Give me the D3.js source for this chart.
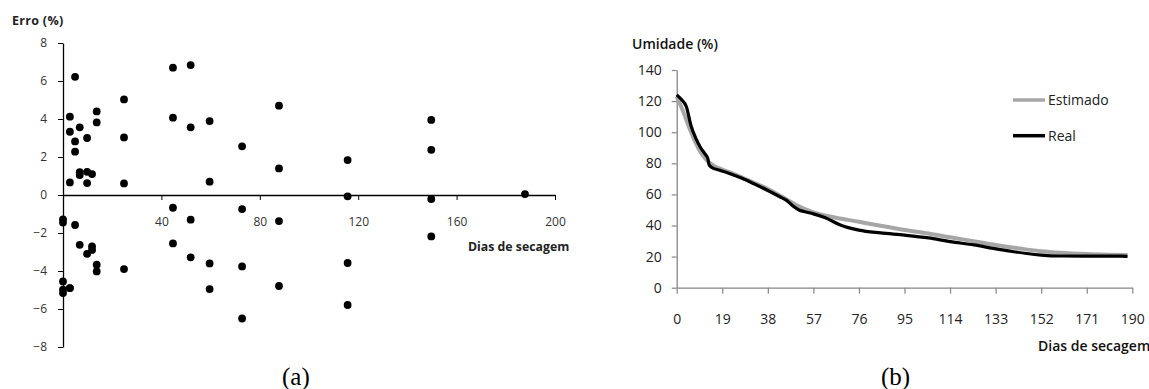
<!DOCTYPE html>
<html><head><meta charset="utf-8">
<script src="https://cdn.jsdelivr.net/npm/d3@7"></script>
<style>body{margin:0;background:#fff}svg{display:block}</style>
</head><body>
<svg id="c" width="1149" height="389"></svg>
<script>
// (a) scatter: erro (%) vs dias de secagem
const errDays = [0,0,0,0,0,2.8,2.8,2.8,2.8,2.8,4.9,4.9,4.9,4.9,6.8,6.8,6.8,6.8,9.8,9.8,9.8,9.8,11.8,11.8,11.8,13.7,13.7,13.7,13.7,24.8,24.8,24.8,24.8,44.7,44.7,44.7,44.7,51.9,51.9,51.9,51.9,59.6,59.6,59.6,59.6,72.8,72.8,72.8,72.8,87.8,87.8,87.8,87.8,115.7,115.7,115.7,115.7,149.7,149.7,149.7,149.7,187.8];
const errVals = [-1.28,-1.45,-4.55,-4.98,-5.16,0.66,4.12,3.33,-4.9,-4.9,6.22,2.82,2.28,-1.58,3.56,1.2,1.05,-2.62,3.0,1.22,0.63,-3.1,1.1,-2.7,-2.89,4.4,3.82,-3.67,-4.02,5.03,3.03,0.61,-3.9,6.7,4.07,-0.67,-2.55,6.84,3.56,-1.3,-3.28,3.89,0.7,-3.6,-4.95,2.56,-0.74,-3.76,-6.5,4.7,1.4,-1.37,-4.79,1.84,-0.07,-3.58,-5.79,3.95,2.38,-0.21,-2.18,0.05];
const errXTicks = [40,80,120,160,200];
const errYTicks = [-8,-6,-4,-2,0,2,4,6,8];

// (b) umidade (%) vs dias de secagem
const realDays = [0,2,4,6,8,10,11.8,13,13.5,14.5,18,22,27,32,38,43,46,48.5,51,53,57,62,68,76,85,95,105,114,124,132,140,146,152,160,170,180,188];
const realVals = [124,121,116.5,104,96,90,86,83,79,77.5,75.5,73.5,70.5,67,62.5,58.5,56,52.5,50,49,47.5,45,40.5,37,35.2,33.8,32,29.6,27.5,25.3,23.3,22,21,20.4,20.3,20.3,20.2];
const estDays = [0,2,4,6,8,10,12,14,16,19,24,30,38,45,50,57,65,76,85,95,105,114,125,133,145,152,160,171,180,188];
const estVals = [123,116,108,100,93,87,83,80,78,76,73,69,63.5,57.5,53,48.5,45.5,42.4,39.8,37.1,34.8,32.4,29.6,27.5,24.8,23.5,22.5,21.6,21.2,21];
const umXTicks = [0,19,38,57,76,95,114,133,152,171,190];
const umYTicks = [0,20,40,60,80,100,120,140];

const svg = d3.select("#c");
const sans = "'Open Sans', sans-serif";

// ---------- chart (a) ----------
const xa = d3.scaleLinear().domain([0,200]).range([63,555]);
const ya = d3.scaleLinear().domain([-8,8]).range([347,43]);
const ga = svg.append("g");
const axA = ga.append("g").attr("transform",`translate(0,${ya(0)})`)
  .call(d3.axisBottom(xa).tickValues(errXTicks).tickSize(5).tickPadding(17).tickSizeOuter(0));
const ayA = ga.append("g").attr("transform",`translate(${xa(0)},0)`)
  .call(d3.axisLeft(ya).tickValues(errYTicks).tickSize(5).tickPadding(11).tickSizeOuter(0));
[axA,ayA].forEach(a=>{
  a.select(".domain").attr("stroke","#000").attr("stroke-width",1.3);
  a.selectAll(".tick line").attr("stroke","#000").attr("stroke-width",1);
  a.selectAll("text").attr("font-family",sans).attr("font-size",12).attr("fill","#333");
});
ga.append("g").selectAll("circle").data(errDays.map((d,i)=>[d,errVals[i]])).join("circle")
  .attr("cx",d=>xa(d[0])).attr("cy",d=>ya(d[1])).attr("r",3.9).attr("fill","#000");
ga.append("text").attr("x",12).attr("y",25).attr("font-family",sans).attr("font-weight","bold")
  .attr("font-size",12.5).attr("letter-spacing",0.3).attr("fill","#222").text("Erro (%)");
ga.append("text").attr("x",468).attr("y",251).attr("font-family",sans).attr("font-weight","bold")
  .attr("font-size",12.3).attr("fill","#222").text("Dias de secagem");
ga.append("text").attr("x",282).attr("y",385).attr("font-family","'Liberation Serif', serif")
  .attr("font-size",25).attr("fill","#000").text("(a)");

// ---------- chart (b) ----------
const xb = d3.scaleLinear().domain([0,190]).range([676.7,1132.3]);
const yb = d3.scaleLinear().domain([0,140]).range([287.7,70]);
const gb = svg.append("g");
const axB = gb.append("g").attr("transform",`translate(0,${yb(0)})`)
  .call(d3.axisBottom(xb).tickValues(umXTicks).tickSize(6).tickPadding(20).tickSizeOuter(0));
const ayB = gb.append("g").attr("transform",`translate(${xb(0)},0)`)
  .call(d3.axisLeft(yb).tickValues(umYTicks).tickSize(5).tickPadding(10).tickSizeOuter(0));
[axB,ayB].forEach(a=>{
  a.select(".domain").attr("stroke","#868686").attr("stroke-width",1.3);
  a.selectAll(".tick line").attr("stroke","#868686").attr("stroke-width",1.2);
  a.selectAll("text").attr("font-family",sans).attr("font-size",14).attr("fill","#222");
});
const line = d3.line().x(d=>xb(d[0])).y(d=>yb(d[1])).curve(d3.curveMonotoneX);
gb.append("path").datum(estDays.map((d,i)=>[d,estVals[i]])).attr("d",line)
  .attr("fill","none").attr("stroke","#a6a6a6").attr("stroke-width",4);
gb.append("path").datum(realDays.map((d,i)=>[d,realVals[i]])).attr("d",line)
  .attr("fill","none").attr("stroke","#000").attr("stroke-width",3.2);
gb.append("text").attr("x",632).attr("y",49).attr("font-family",sans).attr("font-weight",600)
  .attr("font-size",14).attr("fill","#111").text("Umidade (%)");
gb.append("text").attr("x",1038).attr("y",351).attr("font-family",sans).attr("font-weight",600)
  .attr("font-size",14).attr("fill","#111").text("Dias de secagem");
gb.append("text").attr("x",881).attr("y",385).attr("font-family","'Liberation Serif', serif")
  .attr("font-size",25).attr("fill","#000").text("(b)");
// legend
const leg = [["Estimado","#a6a6a6",100],["Real","#000",135.7]];
leg.forEach(l=>{
  gb.append("line").attr("x1",1013).attr("x2",1045).attr("y1",l[2]).attr("y2",l[2])
    .attr("stroke",l[1]).attr("stroke-width",3.5);
  gb.append("text").attr("x",1048).attr("y",l[2]+5).attr("font-family",sans)
    .attr("font-size",14).attr("fill","#222").text(l[0]);
});
</script>
</body></html>
